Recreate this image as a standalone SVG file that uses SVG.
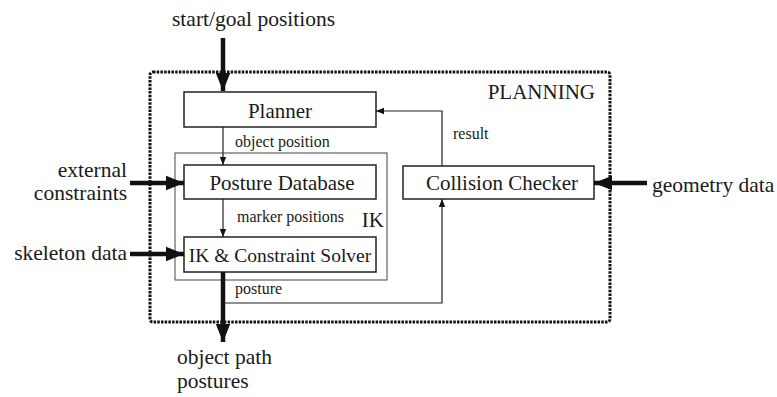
<svg xmlns="http://www.w3.org/2000/svg" width="777" height="397" viewBox="0 0 777 397">
<style>
text{font-family:"Liberation Serif","Times New Roman",serif;fill:#1a1a1a}
.big{font-size:21.5px}
.node{font-size:21px}
.sm{font-size:16px}
.box{fill:#fff;stroke:#222;stroke-width:1.5}
.thin{fill:none;stroke:#222;stroke-width:1.2}
.thick{fill:none;stroke:#111;stroke-width:4.5}
</style>
<defs>
<marker id="big" viewBox="0 0 10 10" refX="10" refY="5" markerWidth="4" markerHeight="4" markerUnits="strokeWidth" orient="auto"><path d="M0,1L10,5L0,9z" fill="#111"/></marker>
<marker id="small" viewBox="0 0 10 10" refX="10" refY="5" markerWidth="8" markerHeight="8" markerUnits="userSpaceOnUse" orient="auto"><path d="M0,1L10,5L0,9z" fill="#111"/></marker>
</defs>
<g id="planning">
<rect x="150" y="72" width="460" height="250" rx="3" fill="none" stroke="#111" stroke-width="3" stroke-dasharray="2.5,1.2"/>
<text x="595" y="99" class="node" text-anchor="end">PLANNING</text>
</g>
<g id="ik">
<rect x="175" y="153" width="212" height="127" fill="none" stroke="#444" stroke-width="1"/>
<text x="384" y="227" class="node" text-anchor="end">IK</text>
</g>
<g id="planner">
<rect class="box" x="184" y="92" width="192" height="35"/>
<text x="280" y="118" class="node" text-anchor="middle">Planner</text>
</g>
<g id="posture-db">
<rect class="box" x="184" y="165" width="192" height="34"/>
<text x="282" y="190" class="node" text-anchor="middle">Posture Database</text>
</g>
<g id="solver">
<rect class="box" x="184" y="237" width="192" height="35"/>
<text x="280" y="262" class="node" text-anchor="middle" style="font-size:19.5px">IK &amp; Constraint Solver</text>
</g>
<g id="collision">
<rect class="box" x="403" y="166" width="191" height="33"/>
<text x="502" y="190" class="node" text-anchor="middle">Collision Checker</text>
</g>
<g id="inputs">
<text x="172" y="26" class="big">start/goal positions</text>
<text x="127" y="177" class="big" text-anchor="end">external</text>
<text x="127" y="200" class="big" text-anchor="end">constraints</text>
<text x="127" y="260" class="big" text-anchor="end">skeleton data</text>
<text x="652" y="192" class="big">geometry data</text>
<text x="177" y="364" class="big">object path</text>
<text x="177" y="388" class="big">postures</text>
</g>
<g id="connectors">
<line class="thick" x1="223" y1="38" x2="223" y2="91" marker-end="url(#big)"/>
<line class="thick" x1="130" y1="183" x2="184" y2="183" marker-end="url(#big)"/>
<line class="thick" x1="130" y1="254" x2="184" y2="254" marker-end="url(#big)"/>
<line class="thick" x1="647" y1="183" x2="594" y2="183" marker-end="url(#big)"/>
<line class="thick" x1="223" y1="272" x2="223" y2="342" marker-end="url(#big)"/>
<line class="thin" x1="223" y1="127" x2="223" y2="165" marker-end="url(#small)"/>
<line class="thin" x1="223" y1="199" x2="223" y2="237" marker-end="url(#small)"/>
<polyline class="thin" points="442,166 442,111 376,111" marker-end="url(#small)"/>
<polyline class="thin" points="223,303 442,303 442,199" marker-end="url(#small)"/>
<text x="235" y="147" class="sm">object position</text>
<text x="237" y="222" class="sm">marker positions</text>
<text x="453" y="139" class="sm">result</text>
<text x="235" y="294" class="sm">posture</text>
</g>
</svg>
